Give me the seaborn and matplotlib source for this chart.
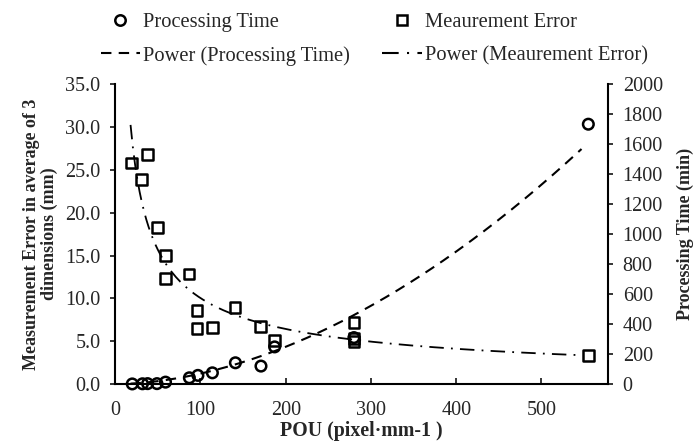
import numpy as np
import pandas as pd
import seaborn as sns
import matplotlib
matplotlib.use("Agg")
import matplotlib.pyplot as plt
from matplotlib.lines import Line2D
from matplotlib.ticker import FormatStrFormatter, MultipleLocator

# data
time_pou = [20, 32, 38, 49, 59, 87, 97, 114, 141, 171, 187, 280, 555]
time_min = [1, 2, 3, 3, 13, 42, 58, 75, 142, 120, 248, 310, 1733]

err_pou = [19.5, 31, 37.5, 49.5, 59, 59, 86.5, 96, 96, 114, 140.5, 170, 187, 280, 280, 280, 555]
err_mm = [25.8, 23.9, 26.8, 18.3, 15.0, 12.35, 12.85, 8.55, 6.45, 6.6, 8.95, 6.7, 5.1, 7.2, 5.35, 5.0, 3.3]

# power trend lines y = a * x^b (as shown on the chart)
pt_a, pt_b = 0.0153, 1.83
me_a, me_b = 194.0, -0.643
trend_start, trend_end = 18, 547

sns.set_style("white")
plt.rcParams["font.family"] = ["Liberation Serif", "DejaVu Serif"]

fig, ax = plt.subplots(figsize=(6.94, 4.43), dpi=100)
fig.subplots_adjust(left=0.166, right=0.876, top=0.810, bottom=0.133)
ax2 = ax.twinx()

err_df = pd.DataFrame({"pou": err_pou, "err": err_mm})
time_df = pd.DataFrame({"pou": time_pou, "time": time_min})

xs = np.linspace(trend_start, trend_end, 200)
trend_df = pd.DataFrame({"pou": xs,
                         "pt": pt_a * xs ** pt_b,
                         "me": me_a * xs ** me_b})

dash = (5, 3.5)
dashdot = (8, 4, 1, 4)

sns.lineplot(data=trend_df, x="pou", y="me", ax=ax, color="black", lw=1.3,
             legend=False)
ax.lines[-1].set_dashes(dashdot)
sns.scatterplot(data=err_df, x="pou", y="err", ax=ax, marker="s", s=60,
                facecolor="none", edgecolor="black", linewidth=1.8,
                clip_on=False, zorder=3)

sns.lineplot(data=trend_df, x="pou", y="pt", ax=ax2, color="black", lw=1.5,
             legend=False)
ax2.lines[-1].set_dashes(dash)
sns.scatterplot(data=time_df, x="pou", y="time", ax=ax2, marker="o", s=58,
                facecolor="none", edgecolor="black", linewidth=1.8,
                clip_on=False, zorder=3)

ax.set_xlim(0, 578)
ax.set_ylim(0, 35)
ax2.set_ylim(0, 2000)
ax.xaxis.set_major_locator(MultipleLocator(100))
ax.yaxis.set_major_locator(MultipleLocator(5))
ax.yaxis.set_major_formatter(FormatStrFormatter("%.1f"))
ax2.yaxis.set_major_locator(MultipleLocator(200))

for a in (ax, ax2):
    for s in a.spines.values():
        s.set_visible(False)
    a.grid(False)
ax.spines["left"].set_visible(True)
ax.spines["bottom"].set_visible(True)
ax2.spines["right"].set_visible(True)
for s in (ax.spines["left"], ax.spines["bottom"], ax2.spines["right"]):
    s.set_color("black")
    s.set_linewidth(1.5)

ax.tick_params(axis="y", direction="out", length=3.6, width=1.3, labelsize=14.5,
               left=True, pad=7)
ax.tick_params(axis="x", direction="in", length=4, width=1.3, labelsize=14.5,
               bottom=True, pad=12)
ax2.tick_params(axis="y", direction="out", length=3.6, width=1.3, labelsize=14.5,
                right=True, pad=7)

ax.set_xlabel("POU (pixel\u00b7mm-1 )", fontsize=14.3, fontweight="bold", labelpad=1)
ax.set_ylabel("Measurement Error in average of 3\ndimensions (mm)", fontsize=13,
              fontweight="bold", labelpad=5, linespacing=1.05)
ax2.set_ylabel("Processing Time (min)", fontsize=13, fontweight="bold", labelpad=10)

handles = [
    Line2D([], [], marker="o", ls="none", mfc="none", mec="black", mew=1.8, ms=7.5),
    Line2D([], [], color="black", lw=1.5, dashes=dash),
    Line2D([], [], marker="s", ls="none", mfc="none", mec="black", mew=1.8, ms=7.5),
    Line2D([], [], color="black", lw=1.5, dashes=dashdot),
]
labels = ["Processing Time", "Power (Processing Time)",
          "Meaurement Error", "Power (Meaurement Error)"]
fig.legend(handles, labels, loc="center", bbox_to_anchor=(0.539, 0.912),
           ncol=2, frameon=False, fontsize=14.8, handlelength=1.9,
           handletextpad=0.15, columnspacing=1.6, labelspacing=0.68)

fig.savefig("out.png", dpi=100)
